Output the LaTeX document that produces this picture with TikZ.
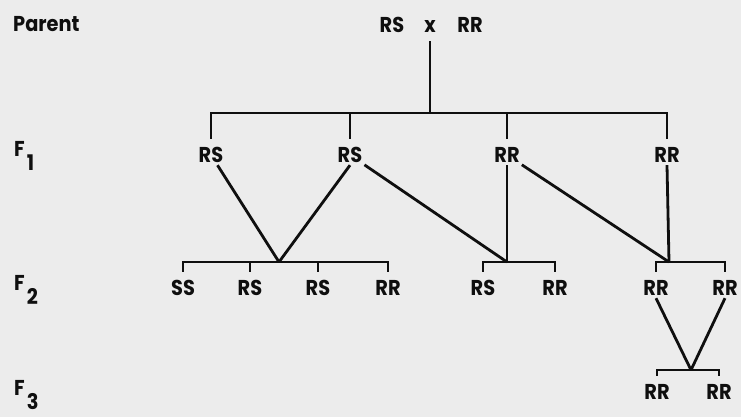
\documentclass[tikz,border=0pt]{standalone}
\usepackage{fontspec}
\setmainfont{Poppins}[FakeStretch=0.9]
\definecolor{bg}{RGB}{236,236,236}
\definecolor{ink}{RGB}{15,15,15}
\tikzset{
  lbl/.style={font=\fontsize{21.5}{21.5}\selectfont\bfseries, text=ink, inner xsep=2pt, inner ysep=2.5pt, text height=15pt, text depth=0pt},
  gen/.style={font=\fontsize{21.5}{21.5}\selectfont\bfseries, text=ink, inner sep=0pt, anchor=west},
  ln/.style={draw=ink, line width=2.8pt},
}
\newcommand{\genlab}[1]{F\kern2pt\raisebox{-14pt}{#1}}
\begin{document}
\begin{tikzpicture}[x=1pt,y=-1pt]
\fill[bg] (0,0) rectangle (741,417);
\useasboundingbox (0,0) rectangle (741,417);
% generation labels
\node[gen] (gP) at (13,24) {Parent};
\node[gen] (g1) at (14,156) {\genlab{1}};
\node[gen] (g2) at (14,290) {\genlab{2}};
\node[gen] (g3) at (14,395) {\genlab{3}};
% parents
\node[lbl] (p1) at (392,25) {RS};
\node[lbl] (px) at (430,25) {x};
\node[lbl] (p2) at (470,25) {RR};
\coordinate (J0) at (430,113);
% F1
\node[lbl] (a1) at (211,155) {RS};
\node[lbl] (a2) at (350,155) {RS};
\node[lbl] (a3) at (507,155) {RR};
\node[lbl] (a4) at (667,155) {RR};
% F2 junctions
\coordinate (K1) at (279,262);
\coordinate (K2) at (507,262);
\coordinate (K3) at (669,262);
% F2
\node[lbl] (b1) at (183,288) {SS};
\node[lbl] (b2) at (250,288) {RS};
\node[lbl] (b3) at (318,288) {RS};
\node[lbl] (b4) at (388,288) {RR};
\node[lbl] (c1) at (483,288) {RS};
\node[lbl] (c2) at (555,288) {RR};
\node[lbl] (d1) at (656,288) {RR};
\node[lbl] (d2) at (725,288) {RR};
% F3
\coordinate (K4) at (691,370);
\node[lbl] (e1) at (657,392) {RR};
\node[lbl] (e2) at (719,392) {RR};
% parent to F1
\draw[ln] ([yshift=-6pt]px.south) -- (J0);
\draw[ln] ([yshift=6pt]a1.north) |- (J0) -| ([yshift=6pt]a4.north);
\draw[ln] ([yshift=6pt]a2.north) -- (a2.north |- J0);
\draw[ln] ([yshift=6pt]a3.north) -- (a3.north |- J0);
% F1 to F2
\draw[ln] (a1) -- (K1);
\draw[ln] (a2.south) -- (K1);
\draw[ln] (a2) -- (K2);
\draw[ln] (a3.south) -- (K2);
\draw[ln] (a3) -- (K3);
\draw[ln] (a4.south) -- (K3);
% F2 brackets
\draw[ln] ([yshift=6pt]b1.north) |- (K1) -| ([yshift=6pt]b4.north);
\draw[ln] ([yshift=6pt]b2.north) -- (b2.north |- K1);
\draw[ln] ([yshift=6pt]b3.north) -- (b3.north |- K1);
\draw[ln] ([yshift=6pt]c1.north) |- (K2) -| ([yshift=6pt]c2.north);
\draw[ln] ([yshift=6pt]d1.north) |- (K3) -| ([yshift=6pt]d2.north);
% F2 to F3
\draw[ln] (d1.south) -- (K4);
\draw[ln] (d2.south) -- (K4);
\draw[ln] ([yshift=6pt]e1.north) |- (K4) -| ([yshift=6pt]e2.north);
\end{tikzpicture}
\end{document}
